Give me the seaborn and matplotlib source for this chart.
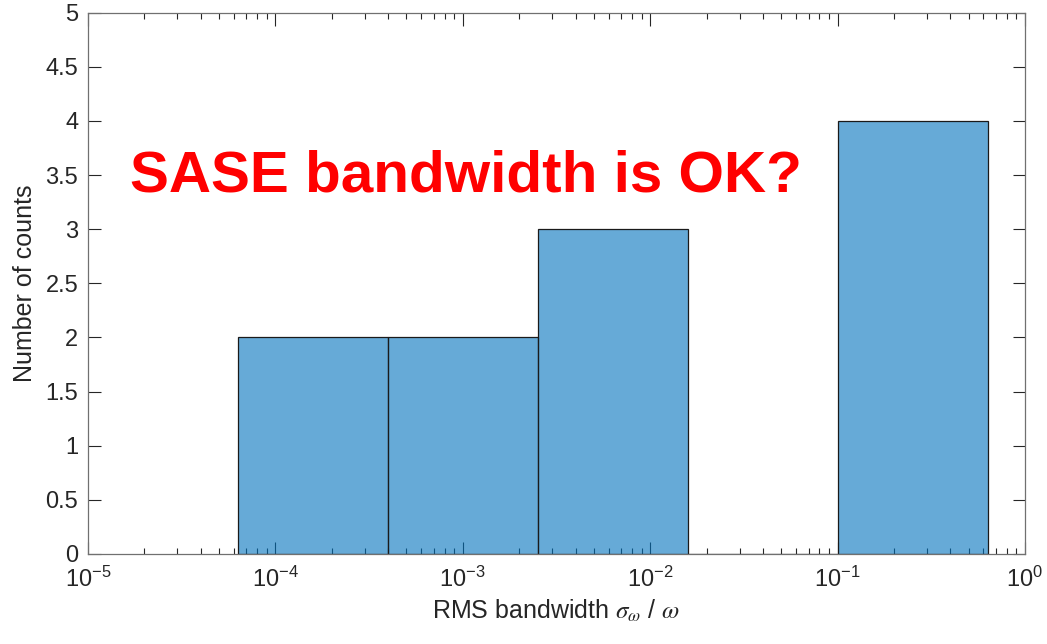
import numpy as np
import pandas as pd
import matplotlib.pyplot as plt
import seaborn as sns
from matplotlib.ticker import LogLocator

bandwidth = [1.5e-4, 2.5e-4,
             8e-4, 1.5e-3,
             4e-3, 7e-3, 1.1e-2,
             0.15, 0.25, 0.35, 0.5]
bin_exponents = [-4.2, -3.4, -2.6, -1.8, -1.0, -0.2]
y_ticks = np.arange(0, 5.01, 0.5)
title_text = 'SASE bandwidth is OK?'

sns.set_style('white')
plt.rcParams['font.family'] = ['Liberation Sans', 'DejaVu Sans']
plt.rcParams['mathtext.fontset'] = 'stix'

fig = plt.figure(figsize=(10.47, 6.44), dpi=100)
ax = fig.add_axes([0.084, 0.1398, 0.895, 0.8405])

df = pd.DataFrame({'bw': bandwidth})
sns.histplot(data=df, x='bw', bins=bin_exponents, log_scale=True,
             color='#0072BD', alpha=0.6, edgecolor='#1a1a1a', linewidth=0.9, ax=ax)

ax.set_xlim(1e-5, 1)
ax.set_ylim(0, 5)
ax.set_yticks(y_ticks)
ax.set_yticklabels([f'{v:g}' for v in y_ticks])
ax.xaxis.set_major_locator(LogLocator(base=10, numticks=10))
ax.xaxis.set_minor_locator(LogLocator(base=10, subs=np.arange(2, 10), numticks=20))
x_major = [1e-5, 1e-4, 1e-3, 1e-2, 1e-1, 1]
ax.set_xticks(x_major)
ax.set_xticklabels([r'$\mathregular{10^{%d}}$' % int(np.log10(v)) for v in x_major])

for s in ax.spines.values():
    s.set_color('#707070')
    s.set_linewidth(0.9)
    s.set_visible(True)

ax.tick_params(which='both', direction='in', top=True, right=True, bottom=True, left=True,
               colors='#262626', width=0.8)
ax.tick_params(axis='y', labelsize=17)
ax.tick_params(axis='x', labelsize=17)
ax.tick_params(which='major', length=9, pad=7)
ax.tick_params(which='minor', length=4.5)
ax.tick_params(axis='x', which='major', pad=9)

ax.set_xlabel(r'RMS bandwidth $\sigma_{\omega}$ / $\omega$', fontsize=18, color='#262626',
              labelpad=4)
ax.set_ylabel('Number of counts', fontsize=18, color='#262626', labelpad=6)

ax.text(0.045, 0.697, title_text, transform=ax.transAxes, fontsize=42,
        fontweight='bold', color='red', va='center', ha='left')

fig.savefig('out.png', dpi=100)
